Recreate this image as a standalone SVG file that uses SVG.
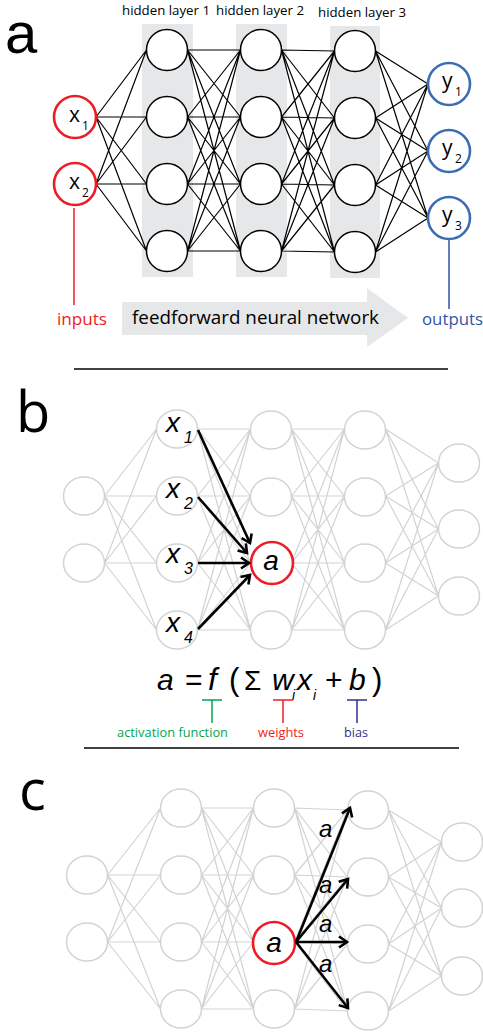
<svg xmlns="http://www.w3.org/2000/svg" width="483" height="1036" viewBox="0 0 483 1036">
<defs>
<style>
.na{fill:#fff;stroke:#000;stroke-width:1.5}
.ng{fill:#fff;stroke:#d1d3d4;stroke-width:1.5}
.nr{fill:#fff;stroke:#ed1c24;stroke-width:2.6}
.nb{fill:#fff;stroke:#3b6cb4;stroke-width:2.6}
.ea{stroke:#000;stroke-width:1.2;fill:none}
.eg{stroke:#d1d3d4;stroke-width:1.2;fill:none}
.arr{stroke:#000;stroke-width:2.6;fill:none;marker-end:url(#ah)}
.band{fill:#e6e7e8}
.sans{font-family:"Open Sans","Noto Sans","Liberation Sans",sans-serif}
.it{font-family:"Liberation Sans",Arial,sans-serif;font-style:italic}
.up{font-family:"Liberation Sans",Arial,sans-serif}
.big{font-family:"Open Sans","Noto Sans",sans-serif;font-size:56px}
</style>
<marker id="ah" markerUnits="userSpaceOnUse" markerWidth="14" markerHeight="14" refX="11" refY="7" orient="auto" overflow="visible">
<path d="M3,1.5 L11,7 L3,12.5" fill="none" stroke="#000" stroke-width="2.6"/>
</marker>
</defs>

<!-- ============ Panel a ============ -->
<g id="panel-a-bg">
<rect class="band" x="142" y="24" width="51" height="253"/>
<rect class="band" x="236" y="24" width="51" height="253"/>
<rect class="band" x="330" y="26" width="50" height="252"/>
<path d="M122,302 H367 V288 L408,318 L367,347 V335 H122 Z" fill="#e6e7e8"/>
</g>
<text x="5" y="53" font-family="Liberation Sans, Arial, sans-serif" font-size="58">a</text>
<text class="sans" x="122" y="15" font-size="12.5" textLength="88" lengthAdjust="spacingAndGlyphs">hidden layer 1</text>
<text class="sans" x="216" y="15" font-size="12.5" textLength="88" lengthAdjust="spacingAndGlyphs">hidden layer 2</text>
<text class="sans" x="318" y="17" font-size="12.5" textLength="88" lengthAdjust="spacingAndGlyphs">hidden layer 3</text>

<g id="connectors-a">
<path class="ea" d="M96,117L146.5,50M96,117L146.5,117M96,117L146.5,184M96,117L146.5,251M96,184L146.5,50M96,184L146.5,117M96,184L146.5,184M96,184L146.5,251"/>
<path class="ea" d="M187.5,50L240.5,50M187.5,50L240.5,117M187.5,50L240.5,184M187.5,50L240.5,251M187.5,117L240.5,50M187.5,117L240.5,117M187.5,117L240.5,184M187.5,117L240.5,251M187.5,184L240.5,50M187.5,184L240.5,117M187.5,184L240.5,184M187.5,184L240.5,251M187.5,251L240.5,50M187.5,251L240.5,117M187.5,251L240.5,184M187.5,251L240.5,251"/>
<path class="ea" d="M281.5,50L334.5,51M281.5,50L334.5,118M281.5,50L334.5,185M281.5,50L334.5,252M281.5,117L334.5,51M281.5,117L334.5,118M281.5,117L334.5,185M281.5,117L334.5,252M281.5,184L334.5,51M281.5,184L334.5,118M281.5,184L334.5,185M281.5,184L334.5,252M281.5,251L334.5,51M281.5,251L334.5,118M281.5,251L334.5,185M281.5,251L334.5,252"/>
<path class="ea" d="M375.5,51L428,84M375.5,51L428,151M375.5,51L428,218M375.5,118L428,84M375.5,118L428,151M375.5,118L428,218M375.5,185L428,84M375.5,185L428,151M375.5,185L428,218M375.5,252L428,84M375.5,252L428,151M375.5,252L428,218"/>
<path d="M74,208 V305" stroke="#ed1c24" stroke-width="1.5"/>
<path d="M449,240 V309" stroke="#2f55a4" stroke-width="1.5"/>
</g>

<g id="a-x1"><circle class="nr" cx="75" cy="117" r="21"/><text class="sans" x="69" y="122" font-size="21">x</text><text class="sans" x="82" y="130" font-size="12">1</text></g>
<g id="a-x2"><circle class="nr" cx="75" cy="184" r="21"/><text class="sans" x="69" y="189" font-size="21">x</text><text class="sans" x="82" y="197" font-size="12">2</text></g>
<g id="a-h1-1"><circle class="na" cx="167" cy="50" r="20.5"/></g>
<g id="a-h1-2"><circle class="na" cx="167" cy="117" r="20.5"/></g>
<g id="a-h1-3"><circle class="na" cx="167" cy="184" r="20.5"/></g>
<g id="a-h1-4"><circle class="na" cx="167" cy="251" r="20.5"/></g>
<g id="a-h2-1"><circle class="na" cx="261" cy="50" r="20.5"/></g>
<g id="a-h2-2"><circle class="na" cx="261" cy="117" r="20.5"/></g>
<g id="a-h2-3"><circle class="na" cx="261" cy="184" r="20.5"/></g>
<g id="a-h2-4"><circle class="na" cx="261" cy="251" r="20.5"/></g>
<g id="a-h3-1"><circle class="na" cx="355" cy="51" r="20.5"/></g>
<g id="a-h3-2"><circle class="na" cx="355" cy="118" r="20.5"/></g>
<g id="a-h3-3"><circle class="na" cx="355" cy="185" r="20.5"/></g>
<g id="a-h3-4"><circle class="na" cx="355" cy="252" r="20.5"/></g>
<g id="a-y1"><circle class="nb" cx="449" cy="84" r="21"/><text class="sans" x="442" y="88" font-size="21">y</text><text class="sans" x="455" y="96" font-size="12">1</text></g>
<g id="a-y2"><circle class="nb" cx="449" cy="151" r="21"/><text class="sans" x="442" y="155" font-size="21">y</text><text class="sans" x="455" y="163" font-size="12">2</text></g>
<g id="a-y3"><circle class="nb" cx="449" cy="218" r="21"/><text class="sans" x="442" y="222" font-size="21">y</text><text class="sans" x="455" y="230" font-size="12">3</text></g>

<text class="sans" x="57" y="325" font-size="16" fill="#ed1c24" textLength="50" lengthAdjust="spacingAndGlyphs">inputs</text>
<text class="sans" x="422" y="325" font-size="16" fill="#2f55a4" textLength="61" lengthAdjust="spacingAndGlyphs">outputs</text>
<text class="sans" x="132" y="324" font-size="19" fill="#000" textLength="247" lengthAdjust="spacingAndGlyphs">feedforward neural network</text>
<path d="M74,369 H448" stroke="#000" stroke-width="1.5"/>

<!-- ============ Panel b ============ -->
<text class="big" x="16" y="432">b</text>
<g id="connectors-b">
<path class="eg" d="M104.5,496L156.5,429M104.5,496L156.5,496M104.5,496L156.5,563M104.5,496L156.5,630M104.5,563L156.5,429M104.5,563L156.5,496M104.5,563L156.5,563M104.5,563L156.5,630"/>
<path class="eg" d="M197.5,429L250.5,429M197.5,429L250.5,496M197.5,429L250.5,563M197.5,429L250.5,630M197.5,496L250.5,429M197.5,496L250.5,496M197.5,496L250.5,563M197.5,496L250.5,630M197.5,563L250.5,429M197.5,563L250.5,496M197.5,563L250.5,563M197.5,563L250.5,630M197.5,630L250.5,429M197.5,630L250.5,496M197.5,630L250.5,563M197.5,630L250.5,630"/>
<path class="eg" d="M291.5,429L344.5,429M291.5,429L344.5,496M291.5,429L344.5,563M291.5,429L344.5,630M291.5,496L344.5,429M291.5,496L344.5,496M291.5,496L344.5,563M291.5,496L344.5,630M291.5,563L344.5,429M291.5,563L344.5,496M291.5,563L344.5,563M291.5,563L344.5,630M291.5,630L344.5,429M291.5,630L344.5,496M291.5,630L344.5,563M291.5,630L344.5,630"/>
<path class="eg" d="M385.5,429L438.5,463M385.5,429L438.5,529M385.5,429L438.5,596M385.5,496L438.5,463M385.5,496L438.5,529M385.5,496L438.5,596M385.5,563L438.5,463M385.5,563L438.5,529M385.5,563L438.5,596M385.5,630L438.5,463M385.5,630L438.5,529M385.5,630L438.5,596"/>
</g>
<g id="b-l0-1"><ellipse class="ng" cx="84" cy="496" rx="20.5" ry="19"/></g>
<g id="b-l0-2"><ellipse class="ng" cx="84" cy="563" rx="20.5" ry="19"/></g>
<g id="b-x1"><ellipse class="ng" cx="177" cy="429" rx="20.5" ry="19"/><text class="it" x="166" y="432" font-size="28">x</text><text class="it" x="184" y="443" font-size="16">1</text></g>
<g id="b-x2"><ellipse class="ng" cx="177" cy="496" rx="20.5" ry="19"/><text class="it" x="166" y="498" font-size="28">x</text><text class="it" x="184" y="509" font-size="16">2</text></g>
<g id="b-x3"><ellipse class="ng" cx="177" cy="563" rx="20.5" ry="19"/><text class="it" x="166" y="563" font-size="28">x</text><text class="it" x="184" y="574" font-size="16">3</text></g>
<g id="b-x4"><ellipse class="ng" cx="177" cy="630" rx="20.5" ry="19"/><text class="it" x="166" y="632" font-size="28">x</text><text class="it" x="184" y="643" font-size="16">4</text></g>
<g id="b-l2-1"><ellipse class="ng" cx="271" cy="430" rx="20.5" ry="19"/></g>
<g id="b-l2-2"><ellipse class="ng" cx="271" cy="497" rx="20.5" ry="19"/></g>
<g id="b-l2-4"><ellipse class="ng" cx="271" cy="630" rx="20.5" ry="19"/></g>
<g id="b-l3-1"><ellipse class="ng" cx="365" cy="430" rx="20.5" ry="19"/></g>
<g id="b-l3-2"><ellipse class="ng" cx="365" cy="497" rx="20.5" ry="19"/></g>
<g id="b-l3-3"><ellipse class="ng" cx="365" cy="563" rx="20.5" ry="19"/></g>
<g id="b-l3-4"><ellipse class="ng" cx="365" cy="630" rx="20.5" ry="19"/></g>
<g id="b-l4-1"><ellipse class="ng" cx="459" cy="463" rx="20.5" ry="19"/></g>
<g id="b-l4-2"><ellipse class="ng" cx="459" cy="529" rx="20.5" ry="19"/></g>
<g id="b-l4-3"><ellipse class="ng" cx="459" cy="596" rx="20.5" ry="19"/></g>
<g id="b-a"><circle class="nr" cx="272" cy="563" r="21"/><text class="it" x="271" y="570" font-size="28" text-anchor="middle">a</text></g>
<g id="arrows-b">
<path class="arr" d="M198,430 L250,543"/>
<path class="arr" d="M198,497 L247,553"/>
<path class="arr" d="M198,563 L249,563"/>
<path class="arr" d="M198,629 L250,575"/>
</g>

<g id="formula">
<text class="it" x="157" y="690" font-size="30">a</text>
<text class="up" x="185" y="690" font-size="30">=</text>
<text class="it" x="208" y="690" font-size="32">f</text>
<text class="up" x="229" y="690" font-size="31">(</text>
<text class="up" x="244" y="690" font-size="28">Σ</text>
<text class="it" x="272" y="690" font-size="30">w</text>
<text class="it" x="292" y="700" font-size="14">i</text>
<text class="it" x="297" y="690" font-size="30">x</text>
<text class="it" x="313" y="700" font-size="14">i</text>
<text class="up" x="325" y="690" font-size="30">+</text>
<text class="it" x="349" y="690" font-size="30">b</text>
<text class="up" x="372" y="690" font-size="31">)</text>
</g>
<g id="formula-marks">
<path d="M202,700 H222 M212,700 V723" stroke="#00a651" stroke-width="1.5" fill="none"/>
<path d="M273,700 H293 M283,700 V723" stroke="#ed1c24" stroke-width="1.5" fill="none"/>
<path d="M347,700 H367 M357,700 V723" stroke="#2e3192" stroke-width="1.5" fill="none"/>
<text class="sans" x="117" y="737" font-size="12.5" fill="#00a651" textLength="111" lengthAdjust="spacingAndGlyphs">activation function</text>
<text class="sans" x="258" y="737" font-size="12.5" fill="#ed1c24" textLength="46" lengthAdjust="spacingAndGlyphs">weights</text>
<text class="sans" x="344" y="737" font-size="12.5" fill="#2e3192" textLength="24" lengthAdjust="spacingAndGlyphs">bias</text>
</g>
<path d="M84,748 H459" stroke="#000" stroke-width="1.5"/>

<!-- ============ Panel c ============ -->
<text class="big" x="19" y="810" font-size="50">c</text>
<g id="connectors-c">
<path class="eg" d="M107.5,875L160.5,808M107.5,875L160.5,875M107.5,875L160.5,942M107.5,875L160.5,1009M107.5,942L160.5,808M107.5,942L160.5,875M107.5,942L160.5,942M107.5,942L160.5,1009"/>
<path class="eg" d="M201.5,808L253.5,808M201.5,808L253.5,875M201.5,808L253.5,942M201.5,808L253.5,1009M201.5,875L253.5,808M201.5,875L253.5,875M201.5,875L253.5,942M201.5,875L253.5,1009M201.5,942L253.5,808M201.5,942L253.5,875M201.5,942L253.5,942M201.5,942L253.5,1009M201.5,1009L253.5,808M201.5,1009L253.5,875M201.5,1009L253.5,942M201.5,1009L253.5,1009"/>
<path class="eg" d="M294.5,808L347.5,810M294.5,808L347.5,877M294.5,808L347.5,944M294.5,808L347.5,1011M294.5,875L347.5,810M294.5,875L347.5,877M294.5,875L347.5,944M294.5,875L347.5,1011M294.5,942L347.5,810M294.5,942L347.5,877M294.5,942L347.5,944M294.5,942L347.5,1011M294.5,1009L347.5,810M294.5,1009L347.5,877M294.5,1009L347.5,944M294.5,1009L347.5,1011"/>
<path class="eg" d="M388.5,810L441.5,842M388.5,810L441.5,908M388.5,810L441.5,976M388.5,877L441.5,842M388.5,877L441.5,908M388.5,877L441.5,976M388.5,944L441.5,842M388.5,944L441.5,908M388.5,944L441.5,976M388.5,1011L441.5,842M388.5,1011L441.5,908M388.5,1011L441.5,976"/>
</g>
<g id="c-l0-1"><ellipse class="ng" cx="87" cy="875" rx="20.5" ry="19"/></g>
<g id="c-l0-2"><ellipse class="ng" cx="87" cy="942" rx="20.5" ry="19"/></g>
<g id="c-l1-1"><ellipse class="ng" cx="181" cy="808" rx="20.5" ry="19"/></g>
<g id="c-l1-2"><ellipse class="ng" cx="181" cy="875" rx="20.5" ry="19"/></g>
<g id="c-l1-3"><ellipse class="ng" cx="181" cy="942" rx="20.5" ry="19"/></g>
<g id="c-l1-4"><ellipse class="ng" cx="181" cy="1009" rx="20.5" ry="19"/></g>
<g id="c-l2-1"><ellipse class="ng" cx="274" cy="808" rx="20.5" ry="19"/></g>
<g id="c-l2-2"><ellipse class="ng" cx="274" cy="875" rx="20.5" ry="19"/></g>
<g id="c-l2-4"><ellipse class="ng" cx="274" cy="1009" rx="20.5" ry="19"/></g>
<g id="c-l3-1"><ellipse class="ng" cx="368" cy="810" rx="20.5" ry="19"/></g>
<g id="c-l3-2"><ellipse class="ng" cx="368" cy="877" rx="20.5" ry="19"/></g>
<g id="c-l3-3"><ellipse class="ng" cx="368" cy="944" rx="20.5" ry="19"/></g>
<g id="c-l3-4"><ellipse class="ng" cx="368" cy="1011" rx="20.5" ry="19"/></g>
<g id="c-l4-1"><ellipse class="ng" cx="462" cy="842" rx="20.5" ry="19"/></g>
<g id="c-l4-2"><ellipse class="ng" cx="462" cy="908" rx="20.5" ry="19"/></g>
<g id="c-l4-3"><ellipse class="ng" cx="462" cy="976" rx="20.5" ry="19"/></g>
<g id="c-a"><circle class="nr" cx="274" cy="943" r="21"/><text class="it" x="274" y="952" font-size="28" text-anchor="middle">a</text></g>
<g id="arrows-c">
<path class="arr" d="M296,942 L350,808"/>
<path class="arr" d="M296,942 L348,879"/>
<path class="arr" d="M296,942 L347,942"/>
<path class="arr" d="M296,942 L348,1008"/>
<text class="it" x="319" y="837" font-size="24">a</text>
<text class="it" x="319" y="893" font-size="24">a</text>
<text class="it" x="319" y="932" font-size="24">a</text>
<text class="it" x="319" y="972" font-size="24">a</text>
</g>
</svg>
